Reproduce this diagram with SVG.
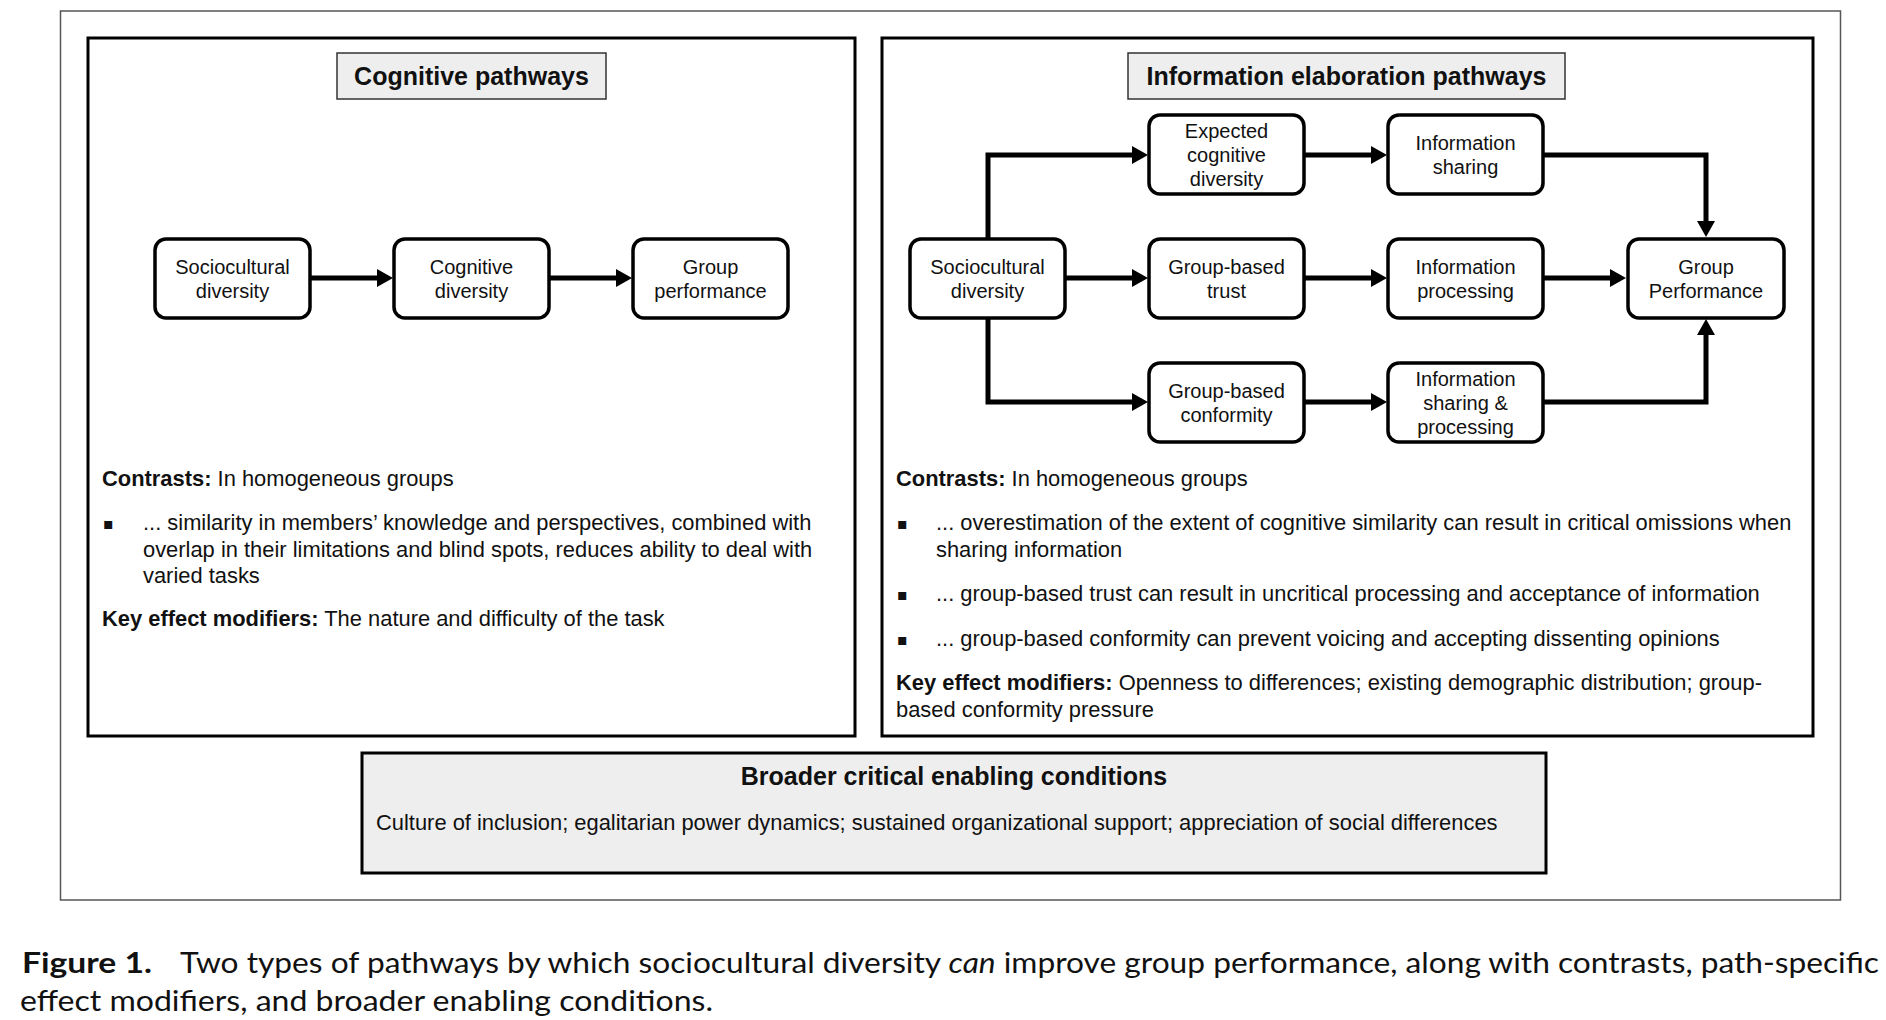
<svg xmlns="http://www.w3.org/2000/svg" width="1886" height="1020" viewBox="0 0 1886 1020">
<style>
  .frame { fill: none; stroke: #555; stroke-width: 1.5; }
  .panel { fill: #fff; stroke: #000; stroke-width: 3; }
  .title-box { fill: #eeeeee; stroke: #333; stroke-width: 1.5; }
  .cond-box { fill: #eeeeee; stroke: #000; stroke-width: 3; }
  .node rect { fill: #fff; stroke: #000; stroke-width: 3.5; }
  .node text { font-family: "Liberation Sans", Arial, sans-serif; font-size: 20px; fill: #111; text-anchor: middle; }
  .title { font-family: "Liberation Sans", Arial, sans-serif; font-size: 25px; font-weight: bold; fill: #111; text-anchor: middle; }
  .body { font-family: "Liberation Sans", Arial, sans-serif; font-size: 21.9px; fill: #111; }
  .b { font-weight: bold; }
  .bullet { font-family: "DejaVu Sans", sans-serif; font-size: 16px; fill: #111; }
  .conn path { fill: none; stroke: #000; stroke-width: 5; stroke-linejoin: miter; stroke-linecap: butt; marker-end: url(#arrow); }
  .caption { font-family: Lato, "Open Sans", sans-serif; font-size: 29px; fill: #111; }
</style>
<defs>
  <marker id="arrow" viewBox="0 0 16 18" refX="1" refY="9" markerWidth="16" markerHeight="18" markerUnits="userSpaceOnUse" orient="auto">
    <path d="M0,0 L16,9 L0,18 Z" fill="#000"/>
  </marker>
</defs>
<rect x="0" y="0" width="1886" height="1020" fill="#fff"/>
<rect class="frame" x="60.5" y="11" width="1780" height="889"/>

<g id="panel-cognitive">
  <rect class="panel" x="88" y="38" width="767" height="698"/>
  <rect class="title-box" x="337" y="53" width="269" height="46"/>
  <text class="title" x="471.5" y="85">Cognitive pathways</text>
</g>
<g id="panel-information">
  <rect class="panel" x="882" y="38" width="931" height="698"/>
  <rect class="title-box" x="1128" y="53" width="437" height="46"/>
  <text class="title" x="1346.5" y="85">Information elaboration pathways</text>
</g>

<g id="conn" class="conn">
  <path d="M310,278 H378"/>
  <path d="M549,278 H617"/>
  <path d="M988,239 V155 H1133"/>
  <path d="M1066,278 H1133"/>
  <path d="M988,317 V402 H1133"/>
  <path d="M1304,155 H1372"/>
  <path d="M1304,278 H1372"/>
  <path d="M1304,402 H1372"/>
  <path d="M1544,155 H1706 V222"/>
  <path d="M1544,278 H1611"/>
  <path d="M1544,402 H1706 V334"/>
</g>

<g id="n-left-socio" class="node">
  <rect x="155" y="239" width="155" height="79" rx="11"/>
  <text x="232.5" y="274">Sociocultural</text>
  <text x="232.5" y="298">diversity</text>
</g>
<g id="n-left-cog" class="node">
  <rect x="394" y="239" width="155" height="79" rx="11"/>
  <text x="471.5" y="274">Cognitive</text>
  <text x="471.5" y="298">diversity</text>
</g>
<g id="n-left-perf" class="node">
  <rect x="633" y="239" width="155" height="79" rx="11"/>
  <text x="710.5" y="274">Group</text>
  <text x="710.5" y="298">performance</text>
</g>

<g id="n-socio" class="node">
  <rect x="910" y="239" width="155" height="79" rx="11"/>
  <text x="987.5" y="274">Sociocultural</text>
  <text x="987.5" y="298">diversity</text>
</g>
<g id="n-expected" class="node">
  <rect x="1149" y="115" width="155" height="79" rx="11"/>
  <text x="1226.5" y="138">Expected</text>
  <text x="1226.5" y="162">cognitive</text>
  <text x="1226.5" y="186">diversity</text>
</g>
<g id="n-sharing" class="node">
  <rect x="1388" y="115" width="155" height="79" rx="11"/>
  <text x="1465.5" y="150">Information</text>
  <text x="1465.5" y="174">sharing</text>
</g>
<g id="n-trust" class="node">
  <rect x="1149" y="239" width="155" height="79" rx="11"/>
  <text x="1226.5" y="274">Group-based</text>
  <text x="1226.5" y="298">trust</text>
</g>
<g id="n-processing" class="node">
  <rect x="1388" y="239" width="155" height="79" rx="11"/>
  <text x="1465.5" y="274">Information</text>
  <text x="1465.5" y="298">processing</text>
</g>
<g id="n-performance" class="node">
  <rect x="1628" y="239" width="156" height="79" rx="11"/>
  <text x="1706" y="274">Group</text>
  <text x="1706" y="298">Performance</text>
</g>
<g id="n-conformity" class="node">
  <rect x="1149" y="363" width="155" height="79" rx="11"/>
  <text x="1226.5" y="398">Group-based</text>
  <text x="1226.5" y="422">conformity</text>
</g>
<g id="n-sharing-processing" class="node">
  <rect x="1388" y="363" width="155" height="79" rx="11"/>
  <text x="1465.5" y="386">Information</text>
  <text x="1465.5" y="410">sharing &amp;</text>
  <text x="1465.5" y="434">processing</text>
</g>

<g id="text-left">
  <text class="body" x="102" y="486"><tspan class="b">Contrasts:</tspan> In homogeneous groups</text>
  <text class="bullet" x="103" y="529">▪</text>
  <text class="body" x="143" y="530">... similarity in members’ knowledge and perspectives, combined with</text>
  <text class="body" x="143" y="557">overlap in their limitations and blind spots, reduces ability to deal with</text>
  <text class="body" x="143" y="583">varied tasks</text>
  <text class="body" x="102" y="626"><tspan class="b">Key effect modifiers:</tspan> The nature and difficulty of the task</text>
</g>

<g id="text-right">
  <text class="body" x="896" y="486"><tspan class="b">Contrasts:</tspan> In homogeneous groups</text>
  <text class="bullet" x="897" y="529">▪</text>
  <text class="body" x="936" y="530">... overestimation of the extent of cognitive similarity can result in critical omissions when</text>
  <text class="body" x="936" y="557">sharing information</text>
  <text class="bullet" x="897" y="600">▪</text>
  <text class="body" x="936" y="601">... group-based trust can result in uncritical processing and acceptance of information</text>
  <text class="bullet" x="897" y="645">▪</text>
  <text class="body" x="936" y="646">... group-based conformity can prevent voicing and accepting dissenting opinions</text>
  <text class="body" x="896" y="690"><tspan class="b">Key effect modifiers:</tspan> Openness to differences; existing demographic distribution; group-</text>
  <text class="body" x="896" y="717">based conformity pressure</text>
</g>

<g id="conditions">
  <rect class="cond-box" x="362" y="753" width="1184" height="120"/>
  <text class="title" x="954" y="785">Broader critical enabling conditions</text>
  <text class="body" x="376" y="830">Culture of inclusion; egalitarian power dynamics; sustained organizational support; appreciation of social differences</text>
</g>

<g id="caption">
  <text class="caption" x="22" y="973" font-weight="bold" textLength="130" lengthAdjust="spacingAndGlyphs">Figure 1.</text>
  <text class="caption" x="180" y="973" textLength="1699" lengthAdjust="spacingAndGlyphs">Two types of pathways by which sociocultural diversity <tspan font-style="italic">can</tspan> improve group performance, along with contrasts, path-specific</text>
  <text class="caption" x="20" y="1011" textLength="693" lengthAdjust="spacingAndGlyphs">effect modifiers, and broader enabling conditions.</text>
</g>
</svg>
